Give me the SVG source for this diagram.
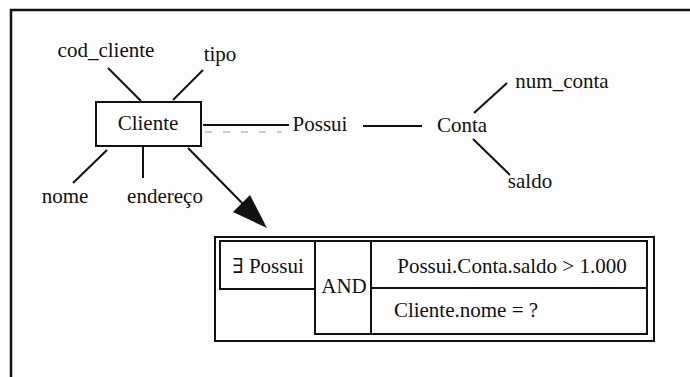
<svg xmlns="http://www.w3.org/2000/svg" width="690" height="377" viewBox="0 0 690 377">
  <defs>
    <style>
      text { font-family: "Liberation Serif", "DejaVu Serif", serif; font-size: 21px; fill: #111; text-anchor: middle; }
      .ln { stroke: #111; stroke-width: 2; fill: none; }
      .frame { stroke: #111; stroke-width: 2.5; fill: none; }
      .box { stroke: #111; stroke-width: 2; fill: #fff; }
    </style>
  </defs>
  <rect width="690" height="377" fill="#fdfdfd"/>

  <!-- page frame -->
  <path class="frame" d="M11 377 V10 H690"/>

  <!-- connectors -->
  <g id="connectors">
    <line class="ln" x1="108" y1="68" x2="141" y2="101"/>
    <line class="ln" x1="203" y1="70" x2="173" y2="100"/>
    <line class="ln" x1="107" y1="150" x2="73" y2="183"/>
    <line class="ln" x1="143" y1="146" x2="143" y2="178"/>
    <line class="ln" x1="203" y1="125" x2="289" y2="125"/>
    <line x1="205" y1="132" x2="282" y2="132" stroke="#bbb" stroke-width="1.5" stroke-dasharray="7 11"/>
    <line class="ln" x1="363" y1="126" x2="422" y2="126"/>
    <line class="ln" x1="474" y1="113" x2="507" y2="83"/>
    <line class="ln" x1="473" y1="139" x2="510" y2="175"/>
    <line class="ln" x1="188" y1="148" x2="245" y2="206"/>
    <polygon points="267,228 233,212 250,195" fill="#111"/>
  </g>

  <!-- attributes and entities -->
  <g id="cod_cliente"><text x="106" y="57">cod_cliente</text></g>
  <g id="tipo"><text x="220" y="61">tipo</text></g>
  <g id="cliente">
    <rect class="box" x="96" y="102" width="105" height="44"/>
    <text x="148" y="130">Cliente</text>
  </g>
  <g id="nome"><text x="65" y="203">nome</text></g>
  <g id="endereco"><text x="165" y="203">endereço</text></g>
  <g id="possui"><text x="320" y="131">Possui</text></g>
  <g id="conta"><text x="462" y="132">Conta</text></g>
  <g id="num_conta"><text x="562" y="88">num_conta</text></g>
  <g id="saldo"><text x="530" y="188">saldo</text></g>

  <!-- query table -->
  <g id="query">
    <rect class="box" x="215" y="237" width="439" height="104"/>
    <rect class="ln" x="220" y="241" width="95" height="48"/>
    <rect class="ln" x="315" y="241" width="332" height="93"/>
    <line class="ln" x1="371" y1="241" x2="371" y2="334"/>
    <line class="ln" x1="371" y1="288" x2="647" y2="288"/>
    <text x="268" y="273">∃ Possui</text>
    <text x="344" y="293">AND</text>
    <text x="512" y="273">Possui.Conta.saldo &gt; 1.000</text>
    <text x="466" y="317">Cliente.nome = ?</text>
  </g>
</svg>
